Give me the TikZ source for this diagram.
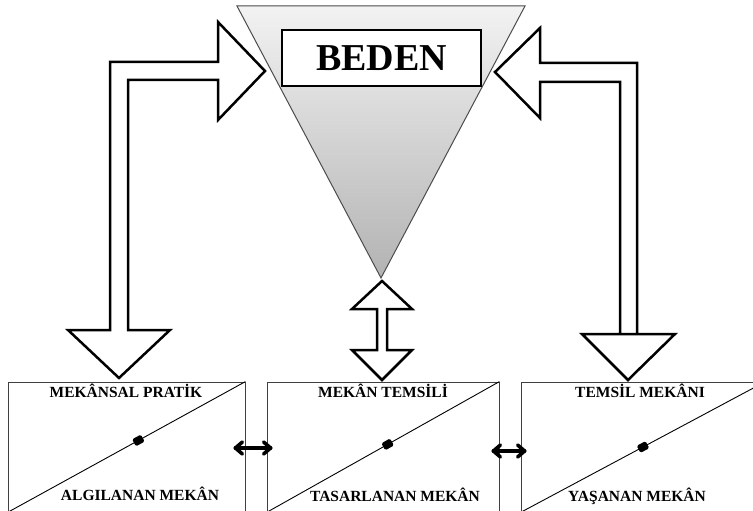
\documentclass[tikz,border=0pt]{standalone}
\usepackage{fontspec}
\setmainfont{Liberation Serif}
\usetikzlibrary{arrows.meta}
\newcommand{\spacebox}[4]{%
  \node[spacebox, minimum width=#3] (#1) at (#2) {};
  \draw[line width=0.9pt] (#1.south west) -- (#1.north east)
    node[pos=#4, blob, sloped] {};
}

\begin{document}
\begin{tikzpicture}[
      x=1pt, y=-1pt,
      every node/.style={inner sep=0pt},
      spacebox/.style={draw=black!75, line width=0.8pt, minimum height=130pt},
      blob/.style={fill=black, minimum width=10pt, minimum height=8pt, rounded corners=1.5pt},
      lbl/.style={font=\bfseries\fontsize{15.5}{16}\selectfont},
      blockarrow/.style={draw, fill=white, line width=2.5pt, miter limit=10},
      barb/.style={line width=3.6pt, line cap=round, line join=round}
    ]
      \useasboundingbox (0,0) rectangle (753,511);
      \fill[white] (0,0) rectangle (753,511);
      \draw[draw=black!70, line width=1pt, top color=black!5, bottom color=black!30]
        (237,6) coordinate (tl) -- (525,6) coordinate (tr) -- (381,278) coordinate (tip) -- cycle;
      \node[draw, fill=white, line width=2.5pt, minimum width=199pt, minimum height=56pt,
        font=\bfseries\fontsize{38}{40}\selectfont] (beden) at (381.5,58) {BEDEN};
      \draw[blockarrow] (110,330) -- (110,62) -- (218,62) -- (218,22) -- (265,71) -- (218,120)
        -- (218,80) -- (128,80) -- (128,330) -- (170,330) -- (119,378) -- (68,330) -- cycle;
      \draw[blockarrow] (637,334) -- (637,63) -- (540,63) -- (540,28) -- (495,72) -- (540,118)
        -- (540,82) -- (620,82) -- (620,334) -- (675,334) -- (628,380) -- (582,334) -- cycle;
      \draw[blockarrow] (382,281) -- (412,309) -- (387,309) -- (387,350) -- (412,350) -- (382,380)
        -- (352,350) -- (377,350) -- (377,309) -- (352,309) -- cycle;
      \spacebox{pratik}{126.5,447}{237pt}{0.55}
      \spacebox{temsil}{383,447}{232pt}{0.52}
      \spacebox{yasanan}{643,447}{244pt}{0.5}
      \node[lbl] (pratikup) at (126,391) {MEKÂNSAL PRATİK};
      \node[lbl] (pratikdown) at (140,494) {ALGILANAN MEKÂN};
      \node[lbl] (temsilup) at (383,391) {MEKÂN TEMSİLİ};
      \node[lbl] (temsildown) at (395,495) {TASARLANAN MEKÂN};
      \node[lbl] (yasananup) at (640,391) {TEMSİL MEKÂNI};
      \node[lbl] (yasanandown) at (637,496) {YAŞANAN MEKÂN};
      \coordinate (l1) at ([xshift=-10pt,yshift=-1pt]pratik.east);
      \coordinate (r1) at ([xshift=4pt,yshift=-1pt]temsil.west);
      \coordinate (l2) at ([xshift=-6pt,yshift=-4pt]temsil.east);
      \coordinate (r2) at ([xshift=4pt,yshift=-4pt]yasanan.west);
      \foreach \a/\b in {l1/r1, l2/r2} {
        \draw[barb] (\a) -- (\b);
        \draw[barb] ([shift={(7pt,6pt)}]\a) -- (\a) -- ([shift={(7pt,-6pt)}]\a);
        \draw[barb] ([shift={(-7pt,6pt)}]\b) -- (\b) -- ([shift={(-7pt,-6pt)}]\b);
      }
    \end{tikzpicture}
\end{document}
